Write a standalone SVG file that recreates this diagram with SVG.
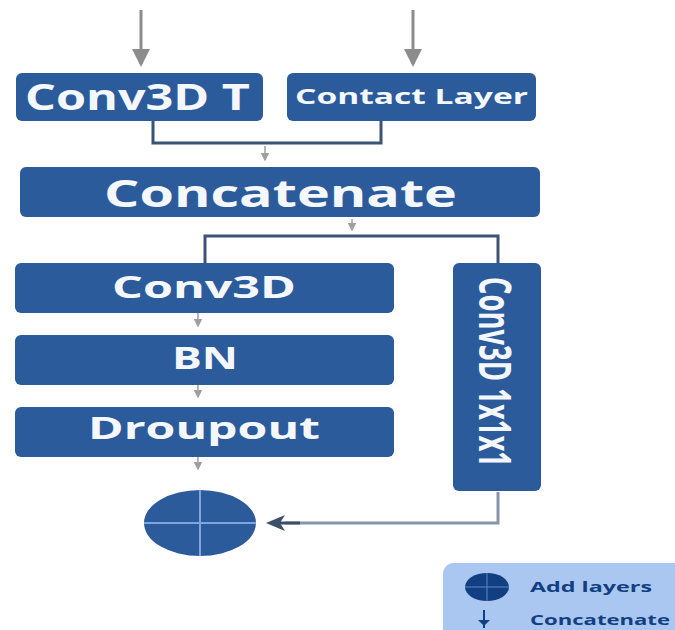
<svg xmlns="http://www.w3.org/2000/svg" width="675" height="630" viewBox="0 0 675 630">
<defs>
<style>
.box{fill:#2c5b9c;}
.lbl{fill:#f4f7fc;font-family:"Open Sans","DejaVu Sans",sans-serif;font-weight:700;}
.in{stroke:#8c8c8c;stroke-width:3;fill:none;}
.br{stroke:#3b5476;stroke-width:3;fill:none;}
.sm{stroke:#a0a0a0;stroke-width:1.5;fill:none;}
.leg{fill:#123f82;font-family:"Open Sans","DejaVu Sans",sans-serif;font-weight:700;font-size:15px;}
</style>
<marker id="ah" markerWidth="6" markerHeight="6" refX="5" refY="3" orient="auto" markerUnits="strokeWidth">
<path d="M0,0 L6,3 L0,6 z" fill="#8c8c8c"/>
</marker>
<marker id="sa" markerWidth="6" markerHeight="6" refX="5" refY="3" orient="auto" markerUnits="strokeWidth">
<path d="M0,0 L6,3 L0,6 z" fill="#a0a0a0"/>
</marker>
</defs>
<rect width="675" height="630" fill="#ffffff"/>
<g id="connectors">
<line class="in" x1="141" y1="10" x2="141" y2="64" marker-end="url(#ah)"/>
<line class="in" x1="413" y1="10" x2="413" y2="64" marker-end="url(#ah)"/>
<path class="br" d="M153,121 V143 H381 V121"/>
<line class="sm" x1="265" y1="146" x2="265" y2="160" marker-end="url(#sa)"/>
<line class="sm" x1="352" y1="219" x2="352" y2="230" marker-end="url(#sa)"/>
<path class="br" d="M205,264 V236 H498 V264"/>
<line class="sm" x1="198" y1="313" x2="198" y2="326" marker-end="url(#sa)"/>
<line class="sm" x1="198" y1="385" x2="198" y2="397" marker-end="url(#sa)"/>
<line class="sm" x1="198" y1="457" x2="198" y2="469" marker-end="url(#sa)"/>
<path d="M498,492 V523 H285" stroke="#8795a8" stroke-width="3" fill="none"/>
<line x1="300" y1="523" x2="278" y2="523" stroke="#3d4f68" stroke-width="3"/>
<path d="M266,523 L285,515 L280,523 L285,531 z" fill="#3d4f68"/>
</g>
<g id="conv3dt">
<rect class="box" x="16" y="73" width="247" height="48" rx="6"/>
<text class="lbl" x="25" y="110" font-size="35" textLength="225" lengthAdjust="spacingAndGlyphs">Conv3D T</text>
</g>
<g id="contact">
<rect class="box" x="287" y="73" width="249" height="48" rx="6"/>
<text class="lbl" x="295" y="104" font-size="21" textLength="233" lengthAdjust="spacingAndGlyphs">Contact Layer</text>
</g>
<g id="concatenate">
<rect class="box" x="20" y="167" width="520" height="50" rx="6"/>
<text class="lbl" x="104" y="207" font-size="37" textLength="353" lengthAdjust="spacingAndGlyphs">Concatenate</text>
</g>
<g id="conv3d">
<rect class="box" x="15" y="263" width="379" height="50" rx="6"/>
<text class="lbl" x="112" y="298" font-size="31" textLength="184" lengthAdjust="spacingAndGlyphs">Conv3D</text>
</g>
<g id="bn">
<rect class="box" x="15" y="335" width="379" height="50" rx="6"/>
<text class="lbl" x="172" y="369" font-size="31" textLength="66" lengthAdjust="spacingAndGlyphs">BN</text>
</g>
<g id="dropout">
<rect class="box" x="15" y="407" width="379" height="50" rx="6"/>
<text class="lbl" x="88" y="439" font-size="31" textLength="232" lengthAdjust="spacingAndGlyphs">Droupout</text>
</g>
<g id="conv1x1">
<rect class="box" x="453" y="263" width="88" height="228" rx="6"/>
<text class="lbl" transform="translate(479,277) scale(1.35,1) rotate(90)" x="0" y="0" font-size="33" textLength="190" lengthAdjust="spacingAndGlyphs">Conv3D 1x1x1</text>
</g>
<g id="add">
<ellipse cx="200" cy="523" rx="56" ry="33" fill="#2c5b9c"/>
<line x1="200" y1="490" x2="200" y2="556" stroke="#7ea6dc" stroke-width="2"/>
<line x1="144" y1="523" x2="256" y2="523" stroke="#7ea6dc" stroke-width="2"/>
</g>
<g id="legend">
<rect x="443" y="563" width="250" height="80" rx="11" fill="#a9c7f0"/>
<ellipse cx="487" cy="587" rx="22" ry="14" fill="#123f82"/>
<line x1="487" y1="573" x2="487" y2="601" stroke="#5f86c0" stroke-width="1"/>
<line x1="465" y1="587" x2="509" y2="587" stroke="#5f86c0" stroke-width="1"/>
<text class="leg" x="530" y="592" textLength="122" lengthAdjust="spacingAndGlyphs">Add layers</text>
<line x1="484" y1="610" x2="484" y2="628" stroke="#123f82" stroke-width="2"/>
<path d="M478,620 L490,620 L484,626 z" fill="#123f82"/>
<text class="leg" x="530" y="625" textLength="140" lengthAdjust="spacingAndGlyphs">Concatenate</text>
</g>
</svg>
